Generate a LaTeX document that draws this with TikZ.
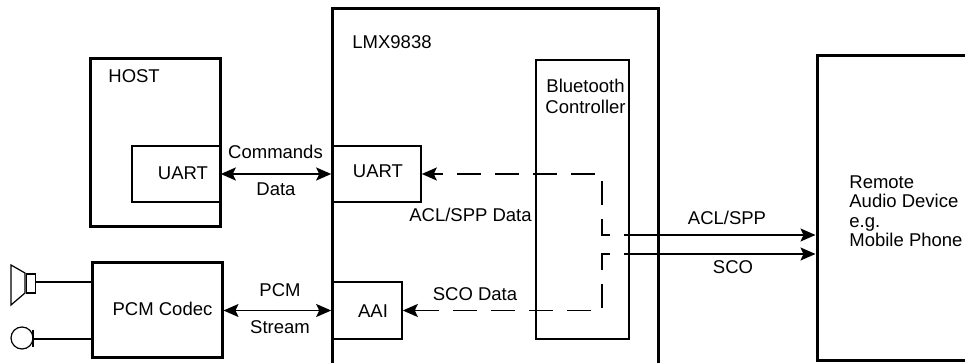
\documentclass[tikz,border=0pt]{standalone}
\usepackage{fontspec}
\setmainfont{Liberation Sans}
\usetikzlibrary{arrows.meta}
\tikzset{
  bigbox/.style={draw, line width=1.5pt, inner sep=0pt},
  smallbox/.style={draw, line width=0.8pt, inner sep=0pt},
  txt/.style={inner sep=0pt, font=\fontsize{9.25}{10.5}\selectfont},
  sig/.style={line width=0.75pt, >={Stealth[length=7.5pt,width=6.5pt,inset=1.5pt]}},
  dataflow/.style={sig, dash pattern=on 12pt off 7pt},
  part/.style={line width=0.6pt}
}
\begin{document}
\begin{tikzpicture}[x=5pt,y=-5pt]
\useasboundingbox (0,0) rectangle (96.5,36.3);
\node[bigbox, minimum width=65pt, minimum height=84pt] (host) at (15.5,14.3){};
\node[txt, anchor=west] (hostlbl) at (10.8,7.6){HOST};
\node[smallbox, minimum width=44pt, minimum height=28pt] (uarta) at (17.6,17.4){};
\node[txt] (uartatxt) at (18.3,17.3){UART};
\node[bigbox, minimum width=163pt, minimum height=185.5pt] (lmx) at (49.5,19.45){};
\node[txt, anchor=west] (lmxlbl) at (35.2,4.2){LMX9838};
\node[smallbox, minimum width=44.5pt, minimum height=28pt] (uartb) at (37.65,17.4){};
\node[txt] (uartbtxt) at (37.8,17.1){UART};
\node[smallbox, minimum width=35pt, minimum height=28.5pt] (aai) at (36.7,31.05){};
\node[txt] (aaitxt) at (37.3,31.1){AAI};
\node[smallbox, minimum width=46.5pt, minimum height=139.5pt] (btc) at (58.25,19.95){};
\node[txt, align=center] (btctxt) at (58.55,9.65){Bluetooth\\Controller};
\node[bigbox, minimum width=65pt, minimum height=47.5pt] (pcm) at (15.7,31.05){};
\node[txt] (pcmtxt) at (16.25,30.9){PCM Codec};
\node[bigbox, minimum width=86.5pt, minimum height=152.5pt] (remote) at (90.35,20.85){};
\node[txt, align=left, anchor=west, font=\fontsize{9.25}{9.75}\selectfont] (remotetxt) at (84.9,21.1){Remote\\Audio Device\\e.g.\\Mobile Phone};
\draw[sig, <->] (uarta) -- (uartb);
\node[txt] (cmdlbl) at (27.55,15.2){Commands};
\node[txt] (datalbl) at (27.6,18.9){Data};
\draw[sig, <->] (pcm) -- (aai);
\node[txt] (pcmlbl) at (28,29){PCM};
\node[txt] (streamlbl) at (28,32.7){Stream};
\coordinate (aclsrc) at (64.8,23.5);
\coordinate (aclbend) at (60.2,23.5);
\coordinate (scosrc) at (64.8,25.4);
\coordinate (scobend) at (60.2,25.4);
\draw[dataflow, ->] (aclsrc) -- (aclbend) |- (uartb);
\draw[dataflow, ->] (scosrc) -- (scobend) |- (aai);
\node[txt] (acldatalbl) at (47.05,21.5){ACL/SPP Data};
\node[txt] (scodatalbl) at (47.5,29.4){SCO Data};
\draw[sig, ->] (aclsrc) -- (aclsrc -| remote.west);
\draw[sig, ->] (scosrc) -- (scosrc -| remote.west);
\node[txt] (acllbl) at (72.7,21.8){ACL/SPP};
\node[txt] (scolbl) at (73.3,26.7){SCO};
\draw[part] (1.1,26.5) -- (2.5,27.3) -- (2.5,29.3) -- (1.1,30.5) -- cycle;
\draw[part] (2.67,27.4) rectangle (3.57,29.3);
\coordinate (spk) at (3.57,28.2);
\draw[part] (spk) -- (spk -| pcm.west);
\draw[part] (2.2,33.8) circle[radius=5.5pt];
\draw[part] (3.3,33.0) -- (3.3,34.7);
\coordinate (mic) at (3.3,33.9);
\draw[part] (mic) -- (mic -| pcm.west);
\end{tikzpicture}
\end{document}
